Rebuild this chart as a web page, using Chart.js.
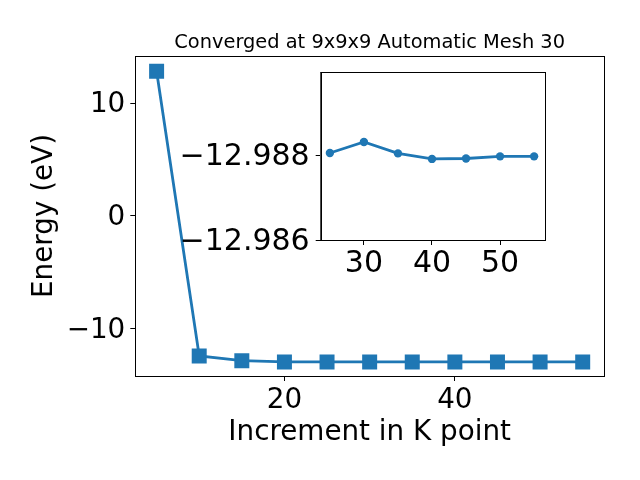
<!DOCTYPE html>
<html>
<head>
<meta charset="utf-8">
<script src="https://cdn.jsdelivr.net/npm/chart.js@4.4.0/dist/chart.umd.min.js"></script>
<style>
  body { margin: 0; background: #fff; }
  #wrap { position: relative; width: 640px; height: 480px; }
  #mainChart { position: absolute; left: 0; top: 0; }
  #insetChart { position: absolute; left: 170px; top: 62px; }
</style>
</head>
<body>
<div id="wrap">
  <canvas id="mainChart" width="640" height="480"></canvas>
  <canvas id="insetChart" width="390" height="230"></canvas>
</div>
<script>
// values
const kPoints = [5, 10, 15, 20, 25, 30, 35, 40, 45, 50, 55];
const energy = [12.85, -12.46, -12.88, -12.987, -12.98805, -12.98831, -12.98804, -12.98791, -12.98792, -12.98797, -12.98797];

// the inset only shows mesh 25 onwards
const insetK = [25, 30, 35, 40, 45, 50, 55];
const insetEnergy = [-12.98805, -12.98831, -12.98804, -12.98791, -12.98792, -12.98797, -12.98797];

const mainXTicks = [20, 40];
const mainYTicks = [-10, 0, 10];
const insetXTicks = [30, 40, 50];
const insetYTicks = [-12.988, -12.986];

const titleText = 'Converged at 9x9x9 Automatic Mesh 30';
const xTitle = 'Increment in K point';
const yTitle = 'Energy (eV)';

const blue = '#1f77b4';
const fontFamily = '"DejaVu Sans", sans-serif';

function minusFmt(v, digits)
{
    let s = Math.abs(v).toFixed(digits);
    return v < 0 ? '\u2212' + s : s;
}

// draws the white face and the four spines of the axes box
const boxPlugin = {
    id: 'box',
    beforeDatasetsDraw(chart) {
        let a = chart.chartArea;
        let ctx = chart.ctx;
        ctx.save();
        ctx.fillStyle = '#fff';
        ctx.fillRect(a.left, a.top, a.right - a.left, a.bottom - a.top);
        ctx.restore();
    },
    afterDatasetsDraw(chart) {
        let a = chart.chartArea;
        let ctx = chart.ctx;
        ctx.save();
        ctx.strokeStyle = '#000';
        ctx.lineWidth = 1;
        ctx.strokeRect(Math.round(a.left) + 0.5, Math.round(a.top) + 0.5,
            Math.round(a.right - a.left), Math.round(a.bottom - a.top));
        ctx.restore();
    }
};

// title centred over the axes box, not over the whole canvas
const axesTitlePlugin = {
    id: 'axesTitle',
    afterDraw(chart) {
        let a = chart.chartArea;
        let ctx = chart.ctx;
        ctx.save();
        ctx.fillStyle = '#000';
        ctx.font = '19.4px ' + fontFamily;
        ctx.textAlign = 'center';
        ctx.textBaseline = 'alphabetic';
        ctx.fillText(titleText, (a.left + a.right) / 2, 47.5);
        ctx.restore();
    }
};

function axisTicks(values)
{
    return function (scale) {
        scale.ticks = values.map(v => ({ value: v }));
    };
}

function fixWidth(w)
{
    return function (scale) {
        scale.width = w;
        scale.paddingTop = 0;
        scale.paddingBottom = 0;
    };
}

function fixHeight(h)
{
    return function (scale) {
        scale.height = h;
        scale.paddingLeft = 0;
        scale.paddingRight = 0;
    };
}

const tickGrid = {
    display: true,
    drawOnChartArea: false,
    drawTicks: true,
    tickLength: 5,
    tickColor: '#000',
    tickWidth: 1
};

new Chart(document.getElementById('mainChart'), {
    type: 'line',
    data: {
        datasets: [{
            data: kPoints.map((k, i) => ({ x: k, y: energy[i] })),
            borderColor: blue,
            borderWidth: 2.8,
            backgroundColor: blue,
            pointStyle: 'rect',
            pointRadius: 10.6,
            pointBackgroundColor: blue,
            pointBorderColor: blue,
            pointBorderWidth: 0,
            tension: 0
        }]
    },
    options: {
        responsive: false,
        animation: false,
        devicePixelRatio: 1,
        layout: { padding: { left: 0, right: 36, top: 56, bottom: 0 } },
        plugins: {
            legend: { display: false },
            tooltip: { enabled: false },
            title: { display: false }
        },
        scales: {
            x: {
                type: 'linear',
                min: 2.5,
                max: 57.5,
                afterBuildTicks: axisTicks(mainXTicks),
                afterFit: fixHeight(104),
                grid: tickGrid,
                border: { display: true, color: '#000', width: 1 },
                ticks: {
                    color: '#000',
                    padding: 3,
                    maxRotation: 0,
                    font: { family: fontFamily, size: 27.8 },
                    callback: v => minusFmt(v, 0)
                },
                title: {
                    display: true,
                    text: xTitle,
                    color: '#000',
                    font: { family: fontFamily, size: 27.8 },
                    padding: { top: 0, bottom: 30.5 }
                }
            },
            y: {
                type: 'linear',
                min: -14.24,
                max: 14.2,
                afterBuildTicks: axisTicks(mainYTicks),
                afterFit: fixWidth(135.3),
                grid: tickGrid,
                border: { display: true, color: '#000', width: 1 },
                ticks: {
                    color: '#000',
                    padding: 5,
                    labelOffset: 2,
                    font: { family: fontFamily, size: 27.8 },
                    callback: v => minusFmt(v, 0)
                },
                title: {
                    display: true,
                    text: yTitle,
                    color: '#000',
                    font: { family: fontFamily, size: 27.8 },
                    padding: { top: 28, bottom: 0 }
                }
            }
        }
    },
    plugins: [boxPlugin, axesTitlePlugin]
});

new Chart(document.getElementById('insetChart'), {
    type: 'line',
    data: {
        datasets: [{
            data: insetK.map((k, i) => ({ x: k, y: insetEnergy[i] })),
            borderColor: blue,
            borderWidth: 2.8,
            backgroundColor: blue,
            pointStyle: 'circle',
            pointRadius: 4.2,
            pointBackgroundColor: blue,
            pointBorderColor: blue,
            pointBorderWidth: 0,
            tension: 0
        }]
    },
    options: {
        responsive: false,
        animation: false,
        devicePixelRatio: 1,
        layout: { padding: { left: 0, right: 15.7, top: 10.3, bottom: 0 } },
        plugins: {
            legend: { display: false },
            tooltip: { enabled: false }
        },
        scales: {
            x: {
                type: 'linear',
                min: 23.65,
                max: 56.5,
                afterBuildTicks: axisTicks(insetXTicks),
                afterFit: fixHeight(52),
                grid: tickGrid,
                border: { display: true, color: '#000', width: 1 },
                ticks: {
                    color: '#000',
                    padding: 1,
                    maxRotation: 0,
                    font: { family: fontFamily, size: 30 },
                    callback: v => minusFmt(v, 0)
                }
            },
            y: {
                type: 'linear',
                reverse: true,
                min: -12.98995,
                max: -12.986,
                afterBuildTicks: axisTicks(insetYTicks),
                afterFit: fixWidth(150.7),
                grid: tickGrid,
                border: { display: true, color: '#000', width: 1 },
                ticks: {
                    color: '#000',
                    padding: 6,
                    labelOffset: 2.5,
                    font: { family: fontFamily, size: 30 },
                    callback: v => minusFmt(v, 3)
                }
            }
        }
    },
    plugins: [boxPlugin]
});
</script>
</body>
</html>
